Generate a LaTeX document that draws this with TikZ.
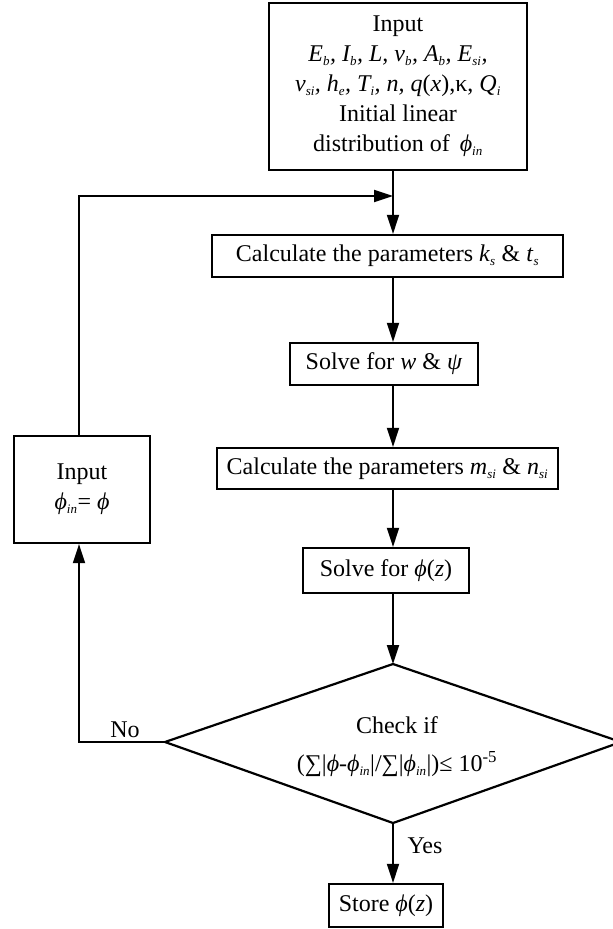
\documentclass[tikz,border=0pt]{standalone}
\usepackage{fontspec}
\setmainfont{Liberation Serif}
\usetikzlibrary{arrows.meta}
\newcommand\lsub[1]{\textsubscript{\itshape\fontsize{13}{13}\selectfont #1}}
\newcommand\phiv{\textit{ϕ}}
\begin{document}
\begin{tikzpicture}[x=1pt,y=-1pt,
  box/.style={draw, line width=2.2pt, inner sep=0pt, align=center, font=\fontsize{24}{30}\selectfont},
  lbl/.style={inner sep=0pt, font=\fontsize{24}{28}\selectfont},
  conn/.style={line width=1.8pt, -{Triangle[length=19pt,width=12pt]}},
  line/.style={line width=1.8pt}]
\useasboundingbox (0,0) rectangle (613,929);
\coordinate (ax) at (393,0);
\node[box, minimum width=258pt, minimum height=167pt] (top) at (398,86.5)
  {Input\\
   \itshape E\lsub{b}, I\lsub{b}, L, v\lsub{b}, A\lsub{b}, E\lsub{si},\\
   \itshape v\lsub{si}, h\lsub{e}, T\lsub{i}, n, q\upshape(\itshape x\upshape),\upshape κ, \itshape Q\lsub{i}\\
   Initial linear\\
   distribution of \,\phiv\lsub{in}};
\node[box, minimum width=351pt, minimum height=42pt] (ks) at (387.5,256)
  {Calculate the parameters \textit{k}\lsub{s} \& \textit{t}\lsub{s}};
\node[box, minimum width=188pt, minimum height=42pt] (wp) at (384,364)
  {Solve for \textit{w} \& \textit{ψ}};
\node[box, minimum width=341pt, minimum height=41pt] (mn) at (387.5,468.5)
  {Calculate the parameters \textit{m}\lsub{si} \& \textit{n}\lsub{si}};
\node[box, minimum width=166pt, minimum height=45pt] (phz) at (386,570.5)
  {Solve for \phiv(\textit{z})};
\coordinate (dt) at (393,664);
\coordinate (dl) at (165,742);
\coordinate (db) at (393,823);
\coordinate (dr) at (621,742);
\draw[line width=2.2pt, line join=miter] (dt) -- (dr) -- (db) -- (dl) -- cycle;
\node[lbl, align=center, font=\fontsize{24}{38}\selectfont] (chk) at (397,747)
  {Check if\\ (∑|\phiv-\phiv\lsub{in}|/∑|\phiv\lsub{in}|)≤ 10\textsuperscript{-5}};
\node[box, minimum width=136pt, minimum height=107pt] (inp) at (82,489.5)
  {Input\\ \phiv\lsub{in}= \phiv};
\node[box, minimum width=114pt, minimum height=43pt] (st) at (386,905.5)
  {Store \phiv(\textit{z})};
\coordinate (lc) at (79,0);
% main flow
\draw[conn] (top.south -| ax) -- (ks.north -| ax);
\draw[conn] (ks.south -| ax) -- (wp.north -| ax);
\draw[conn] (wp.south -| ax) -- (mn.north -| ax);
\draw[conn] (mn.south -| ax) -- (phz.north -| ax);
\draw[conn] (phz.south -| ax) -- (dt);
\draw[conn] (db) -- (st.north -| ax);
% feedback loop
\draw[conn] (dl) -| (inp.south -| lc);
\draw[conn] (inp.north -| lc) |- (393,196);
\node[lbl] (no) at (125,730) {No};
\node[lbl] (yes) at (425,846) {Yes};
\end{tikzpicture}
\end{document}
